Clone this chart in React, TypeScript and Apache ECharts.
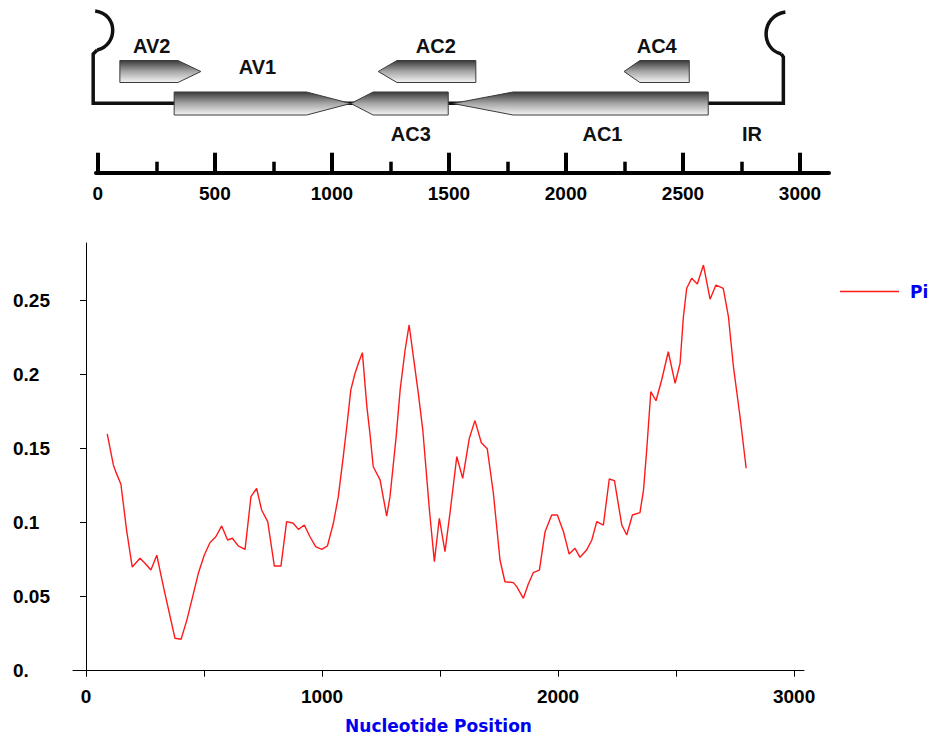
import React, { useEffect, useRef } from "react";
import * as echarts from "echarts";

// ---- Nucleotide diversity (Pi) sliding window ----
const positions = [
  90, 116, 126, 148, 172, 196, 229, 250, 275, 300, 328, 377, 403, 427, 452, 476, 501, 525, 550, 575,
  600, 620, 645, 674, 699, 723, 744, 770, 798, 826, 850, 878, 900, 925, 949, 973, 999, 1023, 1048, 1069,
  1090, 1105, 1122, 1140, 1154, 1171, 1190, 1203, 1217, 1246, 1274, 1288, 1314, 1331, 1352, 1369, 1387, 1408, 1427, 1441,
  1455, 1476, 1497, 1521, 1542, 1571, 1596, 1624, 1648, 1675, 1700, 1726, 1754, 1775, 1811, 1825, 1853, 1874, 1895, 1921,
  1945, 1973, 1997, 2023, 2047, 2072, 2093, 2121, 2143, 2164, 2192, 2217, 2239, 2270, 2291, 2315, 2347, 2362, 2376, 2393,
  2415, 2439, 2467, 2496, 2517, 2531, 2545, 2566, 2590, 2616, 2644, 2669, 2700, 2722, 2743, 2771, 2797,
];
const piValues = [
  0.16, 0.139, 0.1345, 0.126, 0.095, 0.07, 0.076, 0.0726, 0.068, 0.078, 0.0568, 0.0219, 0.0212, 0.034, 0.05, 0.0658, 0.078, 0.0865, 0.0905, 0.0978,
  0.0883, 0.0895, 0.0843, 0.082, 0.1176, 0.1232, 0.1086, 0.1007, 0.0707, 0.0707, 0.1007, 0.0996, 0.0955, 0.0984, 0.0905, 0.0838, 0.082, 0.0843, 0.0996, 0.1176,
  0.1446, 0.165, 0.1897, 0.201, 0.2077, 0.2149, 0.1784, 0.1604, 0.1378, 0.1289, 0.1045, 0.1176, 0.158, 0.1897, 0.2167, 0.2336, 0.2122, 0.1874, 0.1626, 0.1356,
  0.1086, 0.0737, 0.103, 0.0804, 0.1063, 0.1446, 0.13, 0.157, 0.169, 0.154, 0.15, 0.1199, 0.0748, 0.0601, 0.0595, 0.0568, 0.0489, 0.0586, 0.0662, 0.068,
  0.0939, 0.1052, 0.1052, 0.0939, 0.0788, 0.0827, 0.0766, 0.0815, 0.0883, 0.1007, 0.0984, 0.1295, 0.1284, 0.0984, 0.0917, 0.1052, 0.1068, 0.122, 0.15, 0.1885,
  0.1824, 0.1964, 0.2155, 0.1942, 0.2077, 0.239, 0.2584, 0.2651, 0.2613, 0.2741, 0.251, 0.2606, 0.2584, 0.239, 0.2054, 0.1716, 0.1368,
];
const seriesName = "Pi";
const xAxisTitle = "Nucleotide Position";
const xTickValues = [0, 500, 1000, 1500, 2000, 2500, 3000];
const xLabelValues = [0, 1000, 2000, 3000];
const yTickValues = [0, 0.05, 0.1, 0.15, 0.2, 0.25];
const yTickLabels = ["0.", "0.05", "0.1", "0.15", "0.2", "0.25"];

// ---- Genome map (nucleotide coordinates) ----
const mapMajorTicks = [0, 500, 1000, 1500, 2000, 2500, 3000];
const mapMinorTicks = [250, 750, 1250, 1750, 2250, 2750];
const genomeEnds = [-20, 2929];
const geneNames = ["AV2", "AV1", "AC2", "AC3", "AC4", "AC1"];
const geneStarts = [94, 326, 1198, 1081, 2248, 1517];
const geneEnds = [440, 1080, 1615, 1497, 2527, 2608];
const geneStrands = [1, 1, -1, -1, -1, -1];
const geneTracks = [0, 1, 0, 1, 0, 1];
const geneHeads = [98, 188, 80, 95, 68, 257];
const mapLabels = ["AV2", "AV1", "AC2", "AC3", "AC4", "AC1", "IR"];
const mapLabelPositions = [230, 682, 1444, 1337, 2388, 2156, 2795];
const mapLabelRows = [0, 1, 0, 2, 0, 2, 2];

const ARIAL = '"Liberation Sans", Arial, Helvetica, sans-serif';
const VERDANA = '"DejaVu Sans", Verdana, sans-serif';

export default function App() {
  const ref = useRef<HTMLDivElement>(null);

  useEffect(() => {
    if (!ref.current) return;
    const chart = echarts.init(ref.current, undefined, { renderer: "svg" });

    const geneFill = new echarts.graphic.LinearGradient(0, 0, 0, 1, [
      { offset: 0, color: "#3a3a3a" },
      { offset: 0.5, color: "#a6a6a6" },
      { offset: 1, color: "#f4f4f4" },
    ]);

    const trackTop = [60.5, 92];
    const trackBottom = [82.5, 115];
    const labelRowY = [46, 67, 134];
    const plain = (v: number) => String(v);

    const option: any = {
      animation: false,
      backgroundColor: "#ffffff",
      legend: {
        data: [{ name: seriesName, icon: "rect" }],
        left: 840,
        top: 283,
        padding: 0,
        itemWidth: 59,
        itemHeight: 1.5,
        textStyle: {
          color: "#0000f0",
          fontWeight: "bold",
          fontSize: 17,
          fontFamily: VERDANA,
          padding: [0, 0, 0, 6],
        },
      },
      grid: [
        { left: 73, right: 128, top: 243, bottom: 62, containLabel: false, outerBoundsMode: "none" },
        { left: 96, right: 103, top: 0, height: 172.7, containLabel: false, outerBoundsMode: "none" },
      ],
      xAxis: [
        {
          gridIndex: 0,
          type: "value",
          min: -55,
          max: 3042,
          splitLine: { show: false },
          axisLine: { show: true, lineStyle: { color: "#000", width: 1 } },
          axisTick: { show: true, customValues: xTickValues, length: 6, lineStyle: { color: "#000", width: 1 } },
          axisLabel: {
            customValues: xLabelValues,
            formatter: plain,
            color: "#000",
            fontFamily: ARIAL,
            fontWeight: "bold",
            fontSize: 19,
            margin: 11,
          },
          name: xAxisTitle,
          nameLocation: "middle",
          nameGap: 43,
          nameTextStyle: { color: "#0000f0", fontWeight: "bold", fontSize: 17, lineHeight: 14, fontFamily: VERDANA },
        },
        {
          gridIndex: 1,
          type: "value",
          position: "bottom",
          min: -8,
          max: 3124,
          splitLine: { show: false },
          axisLine: { show: true, lineStyle: { color: "#000", width: 4 } },
          axisTick: { show: true, inside: true, customValues: mapMajorTicks, length: 20, lineStyle: { color: "#000", width: 4 } },
          axisLabel: {
            customValues: mapMajorTicks,
            formatter: plain,
            color: "#000",
            fontFamily: ARIAL,
            fontWeight: "bold",
            fontSize: 19,
            margin: 11,
          },
        },
        {
          gridIndex: 1,
          type: "value",
          position: "bottom",
          min: -8,
          max: 3124,
          splitLine: { show: false },
          axisLine: { show: false },
          axisTick: { show: true, inside: true, customValues: mapMinorTicks, length: 11, lineStyle: { color: "#000", width: 3.5 } },
          axisLabel: { show: false },
        },
      ],
      yAxis: [
        {
          gridIndex: 0,
          type: "value",
          min: -0.0036,
          max: 0.289,
          splitLine: { show: false },
          axisLine: { show: true, lineStyle: { color: "#000", width: 1 } },
          axisTick: { show: true, customValues: yTickValues, length: 6, lineStyle: { color: "#000", width: 1 } },
          axisLabel: {
            customValues: yTickValues,
            align: "left",
            margin: 60,
            color: "#000",
            fontFamily: ARIAL,
            fontWeight: "bold",
            fontSize: 19,
            formatter: (v: number) => {
              let best = 0;
              yTickValues.forEach((t, i) => {
                if (Math.abs(t - v) < Math.abs(yTickValues[best] - v)) best = i;
              });
              return yTickLabels[best];
            },
          },
        },
        { gridIndex: 1, type: "value", min: 0, max: 1, show: false },
      ],
      series: [
        {
          name: seriesName,
          type: "line",
          xAxisIndex: 0,
          yAxisIndex: 0,
          data: positions.map((p, i) => [p, piValues[i]]),
          symbol: "none",
          showSymbol: false,
          lineStyle: { color: "#ff1a1a", width: 1.4 },
          itemStyle: { color: "#ff1a1a" },
        },
        {
          name: "backbone",
          type: "custom",
          coordinateSystem: "cartesian2d",
          xAxisIndex: 1,
          yAxisIndex: 1,
          data: [[genomeEnds[0], genomeEnds[1]]],
          renderItem: (params: any, api: any) => {
            const top = params.coordSys.y;
            const xl = api.coord([api.value(0), 0])[0];
            const xr = api.coord([api.value(1), 0])[0];
            const yb = top + 103.3;
            const st = { stroke: "#111", lineWidth: 3.5, fill: "none" };
            return {
              type: "group",
              children: [
                {
                  type: "polyline",
                  shape: { points: [[xl + 4, top + 50], [xl, top + 54], [xl, yb], [xr, yb], [xr, top + 57], [xr - 2, top + 54]] },
                  style: st,
                },
                {
                  type: "bezierCurve",
                  shape: { x1: xl + 4, y1: top + 50, cpx1: xl + 25, cpy1: top + 45, cpx2: xl + 25, cpy2: top + 14, x2: xl + 2, y2: top + 11 },
                  style: st,
                },
                {
                  type: "bezierCurve",
                  shape: { x1: xr - 2, y1: top + 54, cpx1: xr - 23, cpy1: top + 49, cpx2: xr - 23, cpy2: top + 16, x2: xr + 2, y2: top + 12 },
                  style: st,
                },
              ],
            };
          },
        },
        {
          name: "genes",
          type: "custom",
          coordinateSystem: "cartesian2d",
          xAxisIndex: 1,
          yAxisIndex: 1,
          data: geneNames.map((_, i) => [geneStarts[i], geneEnds[i], geneStrands[i], geneTracks[i], geneHeads[i]]),
          renderItem: (params: any, api: any) => {
            const top = params.coordSys.y;
            const s = api.value(0);
            const e = api.value(1);
            const strand = api.value(2);
            const track = api.value(3);
            const head = api.value(4);
            const yT = top + trackTop[track];
            const yB = top + trackBottom[track];
            const yM = (yT + yB) / 2;
            const xs = api.coord([s, 0])[0];
            const xe = api.coord([e, 0])[0];
            let pts: number[][];
            if (strand > 0) {
              const xh = api.coord([e - head, 0])[0];
              pts = [[xs, yT], [xh, yT], [xe, yM], [xh, yB], [xs, yB]];
            } else {
              const xh = api.coord([s + head, 0])[0];
              pts = [[xe, yT], [xh, yT], [xs, yM], [xh, yB], [xe, yB]];
            }
            return {
              type: "polygon",
              shape: { points: pts },
              style: { fill: geneFill, stroke: "#3a3a3a", lineWidth: 1 },
            };
          },
        },
        {
          name: "mapLabels",
          type: "custom",
          coordinateSystem: "cartesian2d",
          xAxisIndex: 1,
          yAxisIndex: 1,
          data: mapLabels.map((_, i) => [mapLabelPositions[i], mapLabelRows[i]]),
          renderItem: (params: any, api: any) => {
            const top = params.coordSys.y;
            const x = api.coord([api.value(0), 0])[0];
            const row = api.value(1);
            return {
              type: "text",
              style: {
                text: mapLabels[params.dataIndex],
                x,
                y: top + labelRowY[row],
                align: "center",
                verticalAlign: "middle",
                font: `bold 20px ${ARIAL}`,
                fill: "#111",
              },
            };
          },
        },
      ],
    };

    chart.setOption(option);
    return () => chart.dispose();
  }, []);

  return (
    <div
      ref={ref}
      style={{ position: "fixed", left: 0, top: 0, width: 932, height: 738, background: "#fff" }}
    />
  );
}
